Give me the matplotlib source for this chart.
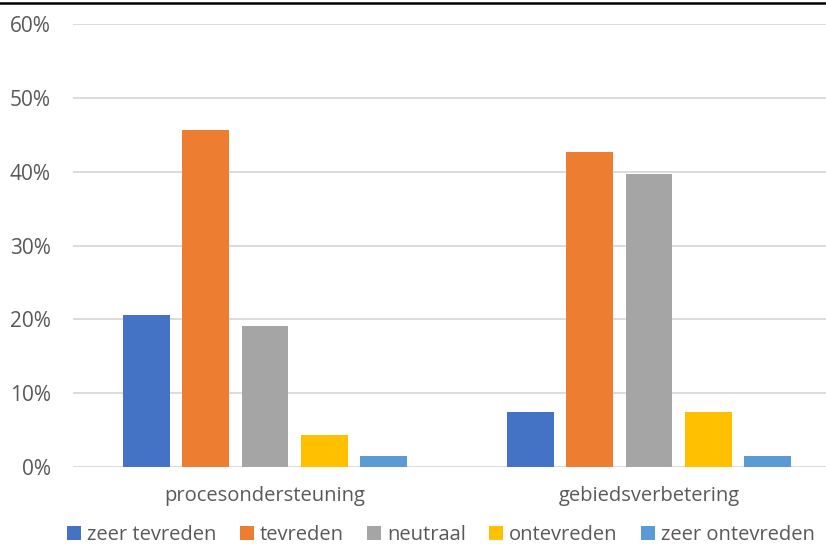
import matplotlib.pyplot as plt
import numpy as np
from matplotlib.lines import Line2D
from matplotlib.ticker import PercentFormatter

groups = ["procesondersteuning", "gebiedsverbetering"]
answers = ["zeer tevreden", "tevreden", "neutraal", "ontevreden", "zeer ontevreden"]
shares = {
    "zeer tevreden":   [20.6, 7.4],
    "tevreden":        [45.6, 42.6],
    "neutraal":        [19.1, 39.7],
    "ontevreden":      [4.4, 7.4],
    "zeer ontevreden": [1.5, 1.5],
}
colors = ["#4472C4", "#ED7D31", "#A5A5A5", "#FFC000", "#5B9BD5"]
y_ticks = [0, 10, 20, 30, 40, 50, 60]

plt.rcParams["font.family"] = ["Open Sans", "DejaVu Sans"]
txt = "#595959"

W, H = 826, 544
fig = plt.figure(figsize=(W / 100, H / 100), dpi=100)
# plot area in pixels: left 73, width 768 (runs slightly past the right edge)
ax = fig.add_axes([73 / W, (H - 467) / H, 768 / W, (467 - 24) / H])

x = np.arange(len(groups))
pitch = 0.154
bw = 0.122
for i, (name, c) in enumerate(zip(answers, colors)):
    off = (i - 2) * pitch
    ax.bar(x + off, shares[name], width=bw, color=c, label=name, zorder=3)

ax.set_xlim(-0.5, 1.5)
ax.set_ylim(0, 60)
ax.set_yticks(y_ticks)
ax.yaxis.set_major_formatter(PercentFormatter(decimals=0))
ax.set_xticks(x)
ax.set_xticklabels(groups)
ax.grid(axis="y", color="#D9D9D9", linewidth=1.3, zorder=0)
ax.tick_params(axis="y", length=0, pad=16, labelsize=15, labelcolor=txt)
ax.tick_params(axis="x", length=0, pad=14, labelsize=14.5, labelcolor=txt)
for s in ax.spines.values():
    s.set_visible(False)

fig.legend(loc="center", bbox_to_anchor=(441 / W, 1 - 535 / H), ncol=5,
           frameon=False, fontsize=14.5, labelcolor=txt, handlelength=0.7,
           handleheight=0.7, handletextpad=0.3, columnspacing=1.15)

# thin black rule along the top edge
fig.add_artist(Line2D([0, 1], [1 - 3 / H, 1 - 3 / H], color="black",
                      linewidth=1.8, transform=fig.transFigure))

fig.savefig("out.png", dpi=100)
